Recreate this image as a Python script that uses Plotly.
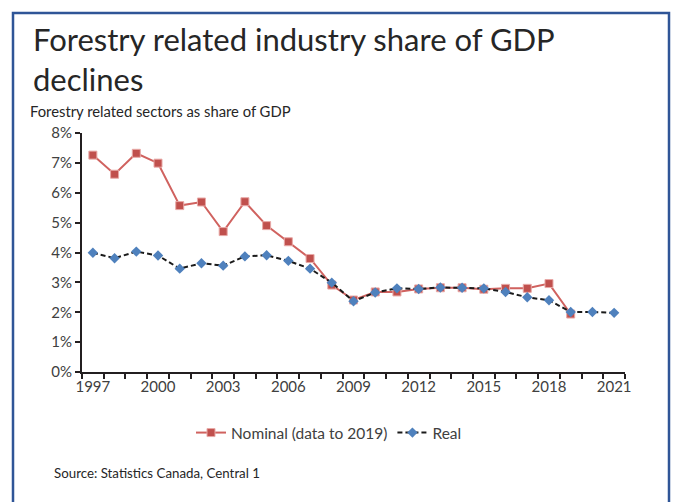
import plotly.graph_objects as go

years = list(range(1997, 2022))
nominal_years = list(range(1997, 2020))
nominal = [7.26, 6.62, 7.32, 6.99, 5.57, 5.69, 4.70, 5.70, 4.90, 4.36, 3.80, 2.91,
           2.41, 2.68, 2.68, 2.78, 2.82, 2.82, 2.77, 2.80, 2.80, 2.96, 1.94]
real = [3.99, 3.81, 4.03, 3.90, 3.46, 3.64, 3.56, 3.87, 3.91, 3.72, 3.46, 2.99,
        2.37, 2.66, 2.80, 2.78, 2.83, 2.82, 2.80, 2.68, 2.50, 2.40, 2.01, 2.01, 1.98]
x_tick_labels = ["1997", "2000", "2003", "2006", "2009", "2012", "2015", "2018", "2021"]
y_ticks = [0, 1, 2, 3, 4, 5, 6, 7, 8]

FONT = "Lato"
W, H = 673, 502
L, R, T, B = 82, 625, 133, 372

def px(x):
    return (x - L) / (R - L)

def py(y):
    return (B - y) / (B - T)

fig = go.Figure()
fig.add_trace(go.Scatter(
    x=nominal_years, y=nominal, name="Nominal (data to 2019)", mode="lines+markers",
    line=dict(color="#D0625F", width=2),
    marker=dict(symbol="square", size=8, color="#C0504D", line=dict(color="#E8A9A7", width=1)),
))
fig.add_trace(go.Scatter(
    x=years, y=real, name="Real", mode="lines+markers",
    line=dict(color="#1a1a1a", width=2, dash="5px,3px"),
    marker=dict(symbol="diamond", size=8, color="#4F81BD"),
))

fig.update_layout(
    width=W, height=H,
    margin=dict(l=L, r=W - R, t=T, b=H - B),
    paper_bgcolor="white", plot_bgcolor="white",
    font=dict(family=FONT, color="#404040", size=14),
    showlegend=True,
    legend=dict(orientation="h", x=px(329), xanchor="center", y=py(433), yanchor="middle",
                font=dict(size=15.5, color="#404040"), itemwidth=30, bgcolor="rgba(0,0,0,0)"),
    xaxis=dict(
        range=[1996.5, 2021.5], tickmode="array",
        tickvals=[int(t) for t in x_tick_labels], ticktext=x_tick_labels,
        ticks="", showgrid=False, zeroline=False, showline=True, linecolor="#231F20", linewidth=2,
        tickfont=dict(size=15, color="#404040"),
        minor=dict(ticks="outside", tickmode="linear", tick0=1996.5, dtick=1, ticklen=5,
                   tickcolor="#231F20", tickwidth=2, showgrid=False),
    ),
    yaxis=dict(
        range=[0, 8], tickmode="array", tickvals=y_ticks, ticktext=[f"{v}%" for v in y_ticks],
        ticks="outside", ticklen=5, tickcolor="#231F20", tickwidth=2,
        showgrid=False, zeroline=False, showline=True, linecolor="#231F20", linewidth=2,
        tickfont=dict(size=15, color="#404040"),
    ),
    shapes=[dict(type="rect", xref="paper", yref="paper",
                 x0=px(13), x1=px(669), y0=py(515), y1=py(13),
                 line=dict(color="#2F5597", width=2.5), fillcolor="rgba(0,0,0,0)", layer="below")],
    annotations=[
        dict(text="Forestry related industry share of GDP", xref="paper", yref="paper",
             x=px(31), y=py(39.5), xanchor="left", yanchor="middle", showarrow=False,
             font=dict(size=31, color="#262626", family=FONT)),
        dict(text="declines", xref="paper", yref="paper",
             x=px(31), y=py(79.5), xanchor="left", yanchor="middle", showarrow=False,
             font=dict(size=31, color="#262626", family=FONT)),
        dict(text="Forestry related sectors as share of GDP", xref="paper", yref="paper",
             x=px(28), y=py(111), xanchor="left", yanchor="middle", showarrow=False,
             font=dict(size=14.8, color="#262626", family=FONT)),
        dict(text="Source: Statistics Canada, Central 1", xref="paper", yref="paper",
             x=px(52), y=py(473), xanchor="left", yanchor="middle", showarrow=False,
             font=dict(size=13.3, color="#262626", family=FONT)),
    ],
)

fig.write_html("out.html", config={"displayModeBar": False},
               post_script="document.body.style.margin='0';document.body.style.overflow='hidden';")
